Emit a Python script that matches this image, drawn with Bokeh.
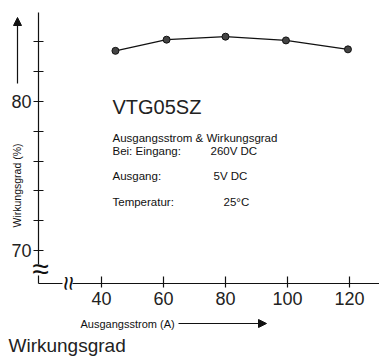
import math
from bokeh.plotting import figure
from bokeh.models import (Range1d, FixedTicker, Label, Arrow, NormalHead, LinearAxis,
                          BoxAnnotation)
from bokeh.embed import file_html
from bokeh.resources import INLINE

# ---- data ----
current = [44.5, 61, 80, 99.5, 119.5]
efficiency = [83.4, 84.15, 84.35, 84.1, 83.5]
x_ticks = [40, 60, 80, 100, 120]
y_ticks = [70, 72, 74, 76, 78, 80, 82, 84]
y_tick_labels = {70: "70", 80: "80"}

FONT = "Liberation Sans"
W, H = 379, 356

# pixel calibration of the reference picture (canvas = frame)
PX_PER_X = 3.1      # px per ampere
PX_PER_Y = 14.9     # px per percent
X_REF, X_REF_PX = 40, 101
Y_REF, Y_REF_PX = 80, 101

X0 = X_REF - X_REF_PX / PX_PER_X
X1 = X_REF + (W - X_REF_PX) / PX_PER_X
Y1 = Y_REF + Y_REF_PX / PX_PER_Y
Y0 = Y_REF - (H - Y_REF_PX) / PX_PER_Y


def dx(px):
    return X0 + px / PX_PER_X


def dy(py):
    return Y1 - py / PX_PER_Y


AXIS_X_PX, AXIS_Y_PX, AXIS_TOP_PX = 38, 283, 12

p = figure(width=W, height=H, output_backend="svg", toolbar_location=None,
           x_range=Range1d(X0, X1), y_range=Range1d(Y0, Y1),
           x_axis_location=None, y_axis_location=None,
           min_border=0, min_border_left=0, min_border_right=0,
           min_border_top=0, min_border_bottom=0)
p.outline_line_color = None
p.xgrid.visible = False
p.ygrid.visible = False

xa = LinearAxis(ticker=FixedTicker(ticks=x_ticks), fixed_location=dy(AXIS_Y_PX),
                bounds=(dx(AXIS_X_PX), X1))
ya = LinearAxis(ticker=FixedTicker(ticks=y_ticks), fixed_location=dx(AXIS_X_PX),
                bounds=(dy(AXIS_Y_PX), dy(AXIS_TOP_PX)),
                major_label_overrides={t: y_tick_labels.get(t, "") for t in y_ticks})
for ax in (xa, ya):
    ax.axis_line_color = "#111"
    ax.axis_line_width = 1.2
    ax.major_tick_line_color = "#111"
    ax.major_tick_line_width = 1.2
    ax.minor_tick_line_color = None
    ax.major_label_text_font = FONT
    ax.major_label_text_font_size = "18px"
    ax.major_label_text_color = "#222"
xa.major_tick_in = 7
xa.major_tick_out = 4
xa.major_label_standoff = 4
ya.major_tick_in = 5
ya.major_tick_out = 5
ya.major_label_standoff = 2
p.add_layout(xa, "below")
p.add_layout(ya, "left")

p.line(current, efficiency, line_color="#111", line_width=1.3)
p.scatter(current, efficiency, size=7, marker="circle", fill_color="#444", line_color="#111")


def lab(text, px, py, size, align="left", angle=0, color="#222", **kw):
    p.add_layout(Label(x=dx(px), y=dy(py), text=text, text_font=FONT,
                       text_font_size=size, text_align=align, text_baseline="middle",
                       text_color=color, angle=angle, **kw))


lab("VTG05SZ", 112, 106, "20px")
lab("Ausgangsstrom & Wirkungsgrad", 112, 137, "11.5px", color="#111")
lab("Bei: Eingang:", 112, 150, "11.5px", color="#111")
lab("260V DC", 210, 150, "11.5px", color="#111")
lab("Ausgang:", 112, 175, "11.5px", color="#111")
lab("5V DC", 213, 175, "11.5px", color="#111")
lab("Temperatur:", 112, 201, "11.5px", color="#111")
lab("25°C", 223, 201, "11.5px", color="#111")

lab("Wirkungsgrad (%)", 16, 185, "10.5px", align="center", angle=math.pi / 2, color="#111")
lab("Ausgangsstrom (A)", 80, 323, "11px", color="#111")
lab("Wirkungsgrad", 8, 345, "19px")

# axis break marks
p.add_layout(BoxAnnotation(left=dx(33), right=dx(44), top=dy(264), bottom=dy(275),
                           fill_color="white", fill_alpha=1, line_color=None))
p.add_layout(BoxAnnotation(left=dx(62), right=dx(72), top=dy(279), bottom=dy(287),
                           fill_color="white", fill_alpha=1, line_color=None))
lab("≈", 40, 268, "30px", align="center", color="#111")
lab("≈", 67, 283, "26px", align="center", angle=math.pi / 2, color="#111")

# direction arrows
p.add_layout(Arrow(x_start=dx(17), y_start=dy(83), x_end=dx(17), y_end=dy(17),
                   line_color="#111", line_width=1.2,
                   end=NormalHead(size=8, fill_color="#111", line_color="#111")))
p.add_layout(Arrow(x_start=dx(178), y_start=dy(323), x_end=dx(266), y_end=dy(323),
                   line_color="#111", line_width=1.2,
                   end=NormalHead(size=8, fill_color="#111", line_color="#111")))

open("out.html", "w").write(file_html(p, INLINE))
